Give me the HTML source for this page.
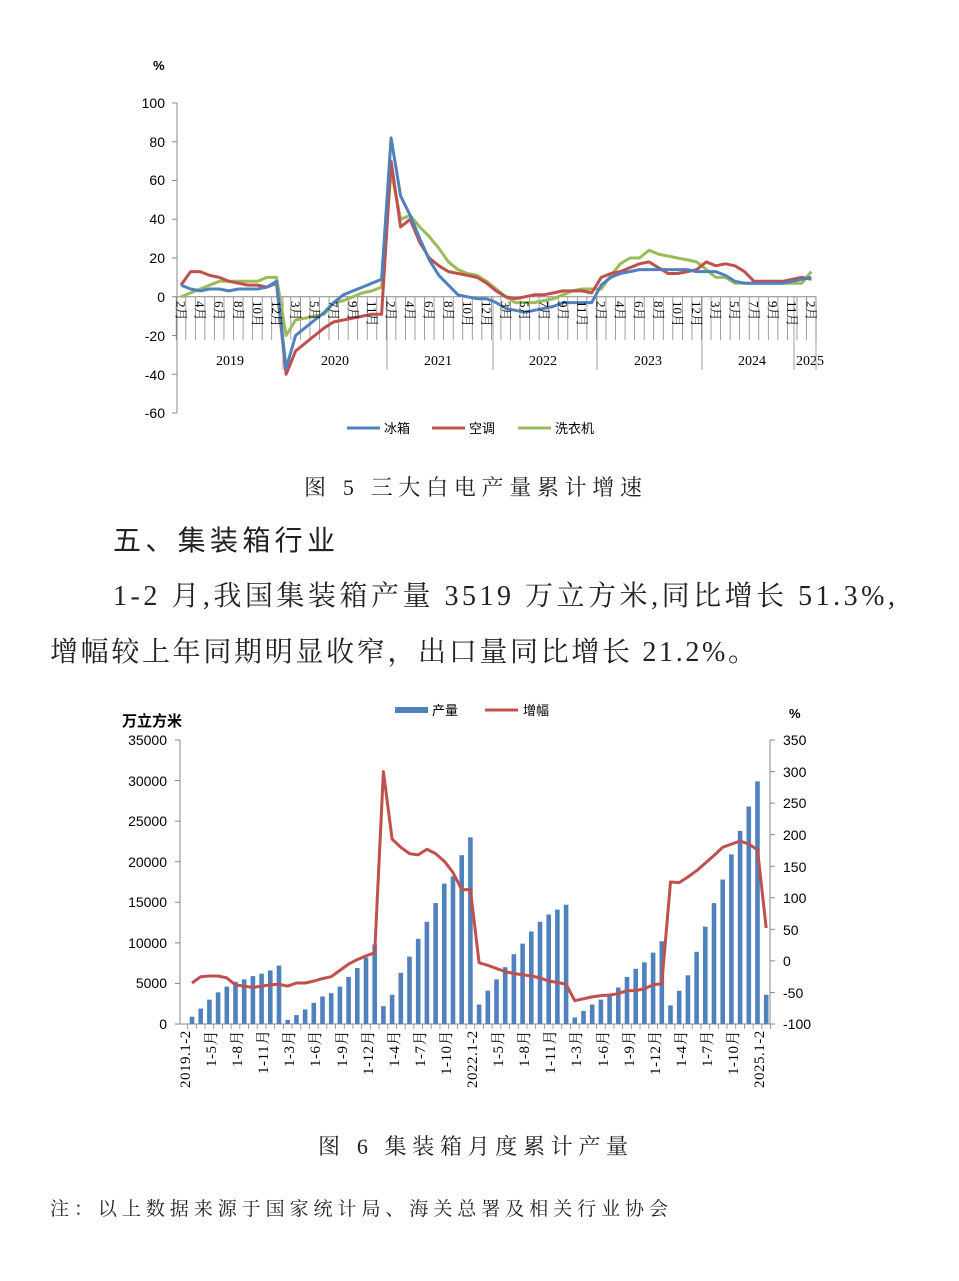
<!DOCTYPE html>
<html><head><meta charset="utf-8">
<style>
html,body{margin:0;padding:0;background:#fff;}
#wrap{position:relative;width:959px;height:1281px;overflow:hidden;background:#fff;font-family:"Liberation Sans","Noto Sans CJK SC",sans-serif;}
svg{position:absolute;left:0;top:0;}
.ml{position:absolute;top:301px;left:171.4px;display:flex;}
.ml span{display:block;width:19.1px;height:40px;writing-mode:vertical-rl;text-orientation:sideways;font-family:"Liberation Serif","Noto Serif CJK SC",serif;font-size:13px;line-height:19.1px;color:#000;}
.cl{position:absolute;top:1030px;left:173px;display:flex;}
.cl span{display:block;width:26.1px;height:75px;writing-mode:vertical-rl;text-orientation:sideways;transform:rotate(180deg);text-align:end;font-family:"Liberation Serif","Noto Serif CJK SC",serif;font-size:15px;letter-spacing:0.5px;line-height:26.1px;color:#000;white-space:nowrap;}
</style></head><body><div id="wrap">
<svg id="s" width="959" height="1281" xmlns="http://www.w3.org/2000/svg">
<g font-family="Liberation Sans, Noto Sans CJK SC, sans-serif" font-size="14" fill="#000">
<text x="153" y="70" font-weight="bold" font-size="13">%</text>
<g text-anchor="end">
<text x="165" y="108">100</text><text x="165" y="147">80</text><text x="165" y="185">60</text>
<text x="165" y="224">40</text><text x="165" y="263">20</text><text x="165" y="302">0</text>
<text x="165" y="341">-20</text><text x="165" y="380">-40</text><text x="165" y="418">-60</text>
</g>
<g font-family="Liberation Serif, Noto Serif CJK SC, serif" font-size="14" text-anchor="middle">
<text x="230" y="365">2019</text><text x="335" y="365">2020</text><text x="438" y="365">2021</text>
<text x="543" y="365">2022</text><text x="648" y="365">2023</text><text x="752" y="365">2024</text><text x="810" y="365">2025</text>
</g>
<g font-size="13">
<line x1="347" y1="428" x2="380" y2="428" stroke="#4f81bd" stroke-width="3"/><text x="384" y="433">冰箱</text>
<line x1="432" y1="428" x2="465" y2="428" stroke="#c0504d" stroke-width="3"/><text x="469" y="433">空调</text>
<line x1="518" y1="428" x2="551" y2="428" stroke="#9bbb59" stroke-width="3"/><text x="555" y="433">洗衣机</text>
</g>
</g>
<g font-family="Liberation Serif, Noto Serif CJK SC, serif" fill="#222">
<text x="304" y="495" font-size="22" textLength="338" lengthAdjust="spacing">图 5 三大白电产量累计增速</text>
<text x="113" y="550" font-size="28" font-family="Liberation Sans, Noto Sans CJK SC, sans-serif" textLength="222" lengthAdjust="spacing">五、集装箱行业</text>
<text x="113" y="605" font-size="28" textLength="782" lengthAdjust="spacing">1-2 月,我国集装箱产量 3519 万立方米,同比增长 51.3%,</text>
<text x="50" y="661" font-size="28" textLength="706" lengthAdjust="spacing">增幅较上年同期明显收窄，出口量同比增长 21.2%。</text>
<text x="318" y="1154" font-size="22" textLength="310" lengthAdjust="spacing">图 6 集装箱月度累计产量</text>
<text x="50" y="1215" font-size="19" textLength="618" lengthAdjust="spacing">注：以上数据来源于国家统计局、海关总署及相关行业协会</text>
</g>
<g font-family="Liberation Sans, Noto Sans CJK SC, sans-serif" font-size="14" fill="#000">
<text x="122" y="726" font-weight="bold" font-size="15">万立方米</text>
<text x="789" y="718" font-weight="bold" font-size="13">%</text>
<g text-anchor="end">
<text x="167" y="745">35000</text><text x="167" y="786">30000</text><text x="167" y="826">25000</text>
<text x="167" y="867">20000</text><text x="167" y="907">15000</text><text x="167" y="948">10000</text>
<text x="167" y="988">5000</text><text x="167" y="1029">0</text>
</g>
<text x="783" y="745">350</text><text x="783" y="777">300</text><text x="783" y="808">250</text>
<text x="783" y="840">200</text><text x="783" y="872">150</text><text x="783" y="903">100</text>
<text x="783" y="935">50</text><text x="783" y="966">0</text><text x="783" y="998">-50</text><text x="783" y="1029">-100</text>
<rect x="395" y="707" width="33" height="6" fill="#4f81bd"/><text x="432" y="715" font-size="13">产量</text>
<line x1="485" y1="710" x2="518" y2="710" stroke="#c0504d" stroke-width="3"/><text x="523" y="715" font-size="13">增幅</text>
</g>
<g id="g1"></g><g id="g2"></g>
</svg>
<div class="ml"><span>2月</span><span>4月</span><span>6月</span><span>8月</span><span>10月</span><span>12月</span><span>3月</span><span>5月</span><span>7月</span><span>9月</span><span>11月</span><span>2月</span><span>4月</span><span>6月</span><span>8月</span><span>10月</span><span>12月</span><span>3月</span><span>5月</span><span>7月</span><span>9月</span><span>11月</span><span>2月</span><span>4月</span><span>6月</span><span>8月</span><span>10月</span><span>12月</span><span>3月</span><span>5月</span><span>7月</span><span>9月</span><span>11月</span><span>2月</span></div>
<div class="cl"><span>2019.1-2</span><span>1-5月</span><span>1-8月</span><span>1-11月</span><span>1-3月</span><span>1-6月</span><span>1-9月</span><span>1-12月</span><span>1-4月</span><span>1-7月</span><span>1-10月</span><span>2022.1-2</span><span>1-5月</span><span>1-8月</span><span>1-11月</span><span>1-3月</span><span>1-6月</span><span>1-9月</span><span>1-12月</span><span>1-4月</span><span>1-7月</span><span>1-10月</span><span>2025.1-2</span></div>
</div>
<script>
var NS="http://www.w3.org/2000/svg";
function el(p,t,a){var e=document.createElementNS(NS,t);for(var k in a)e.setAttribute(k,a[k]);p.appendChild(e);return e;}
var g1=document.getElementById("g1"),g2=document.getElementById("g2");
var y0=296.75,sc=1.9375,X0=181,DX=9.55;
el(g1,"line",{x1:177,y1:103,x2:177,y2:413,stroke:"#888"});
for(var v=100;v>=-60;v-=20){var yy=y0-v*sc;el(g1,"line",{x1:172,y1:yy,x2:177,y2:yy,stroke:"#888"});}
el(g1,"line",{x1:177,y1:y0,x2:816,y2:y0,stroke:"#888"});
for(var i=0;i<=67;i++){var xx=X0-DX/2+i*DX;el(g1,"line",{x1:xx,y1:y0,x2:xx,y2:340,stroke:"#888","stroke-width":0.8});}
[283,387,493,597,702,794,816].forEach(function(x){el(g1,"line",{x1:x,y1:y0,x2:x,y2:370,stroke:"#888","stroke-width":0.8});});
var blue=[6,4,3,4,4,3,4,4,4,5,8, -37,-20,-16,-12,-8,-3,1,3,5,7,9, 82,52,42,30,19,11,6,1,0,-1,-1, -3,-6,-7,-8,-7,-6,-5,-3,-3,-3,-3, 6,10,12,13,14,14,14,14,14,14,13, 13,13,11,8,7,7,7,7,7,8,9, 10];
var red=[6,13,13,11,10,8,7,6,6,5,7, -40,-28,-24,-20,-16,-13,-12,-11,-10,-9,-9, 70,36,40,28,20,16,13,12,11,10,7, 3,0,-1,0,1,1,2,3,3,3,2, 10,12,13,15,17,18,15,12,12,13,14, 18,16,17,16,13,8,8,8,8,9,10, 9];
var green=[0,2,4,6,8,8,8,8,8,10,10, -20,-12,-11,-10,-9,-3,-2,0,2,3,5, 65,40,42,36,31,25,18,14,12,11,8, 4,0,-3,-3,-3,-2,-1,1,3,4,4, 4,11,17,20,20,24,22,21,20,19,18, 14,10,10,7,7,7,7,7,7,7,7, 13];
function pl(g,d,f,c){el(g,"polyline",{points:d.map(f).join(" "),fill:"none",stroke:c,"stroke-width":3,"stroke-linejoin":"round"});}
var f1=function(v,i){return (X0+i*DX).toFixed(1)+","+(y0-v*sc).toFixed(1);};
pl(g1,green,f1,"#9bbb59");pl(g1,red,f1,"#c0504d");pl(g1,blue,f1,"#4f81bd");
var b0=1024,bs=284/35000,r0=960.9,rs=284/450,C0=192,CD=8.7;
el(g2,"line",{x1:180,y1:740,x2:180,y2:1024,stroke:"#888"});
el(g2,"line",{x1:770,y1:740,x2:770,y2:1024,stroke:"#888"});
el(g2,"line",{x1:180,y1:1024,x2:770,y2:1024,stroke:"#888"});
for(var k=0;k<=7;k++){var yy=1024-k*284/7;el(g2,"line",{x1:175,y1:yy,x2:180,y2:yy,stroke:"#888"});}
for(var k=0;k<=9;k++){var yy=1024-k*284/9;el(g2,"line",{x1:770,y1:yy,x2:775,y2:yy,stroke:"#888"});}
for(var i=0;i<=67;i++){var xx=C0-CD/2+i*CD;el(g2,"line",{x1:xx,y1:1024,x2:xx,y2:1029,stroke:"#888","stroke-width":0.8});}
var bars=[0.9,1.9,3.0,3.9,4.6,5.2,5.5,5.9,6.2,6.6,7.2, 0.5,1.1,1.8,2.6,3.4,3.8,4.6,5.8,6.9,8.2,9.8, 2.2,3.6,6.3,8.3,10.5,12.6,14.9,17.3,18.2,20.8,23.0, 2.4,4.1,5.5,7.0,8.6,9.9,11.4,12.6,13.5,14.1,14.7, 0.8,1.6,2.4,3.0,3.7,4.5,5.8,6.8,7.6,8.8,10.2, 2.3,4.1,6.0,8.9,12.0,14.9,17.8,20.9,23.8,26.8,29.9, 3.6];
bars.forEach(function(v,i){var cx=C0+i*CD,h=v*1000*bs;el(g2,"rect",{x:cx-2.3,y:b0-h,width:4.6,height:h,fill:"#4f81bd"});});
var inc=[-35,-25,-24,-24,-27,-38,-40,-42,-40,-38,-37, -40,-35,-35,-32,-28,-25,-15,-5,2,8,13, 300,193,180,170,168,177,170,158,140,113,113, -3,-7,-12,-17,-20,-22,-24,-27,-32,-34,-37, -63,-60,-57,-55,-54,-52,-47,-47,-44,-38,-36, 125,124,133,143,155,167,180,185,190,185,176, 52];
pl(g2,inc,function(v,i){return (C0+i*CD).toFixed(1)+","+(r0-v*rs).toFixed(1);},"#c0504d");
</script>
</body></html>
